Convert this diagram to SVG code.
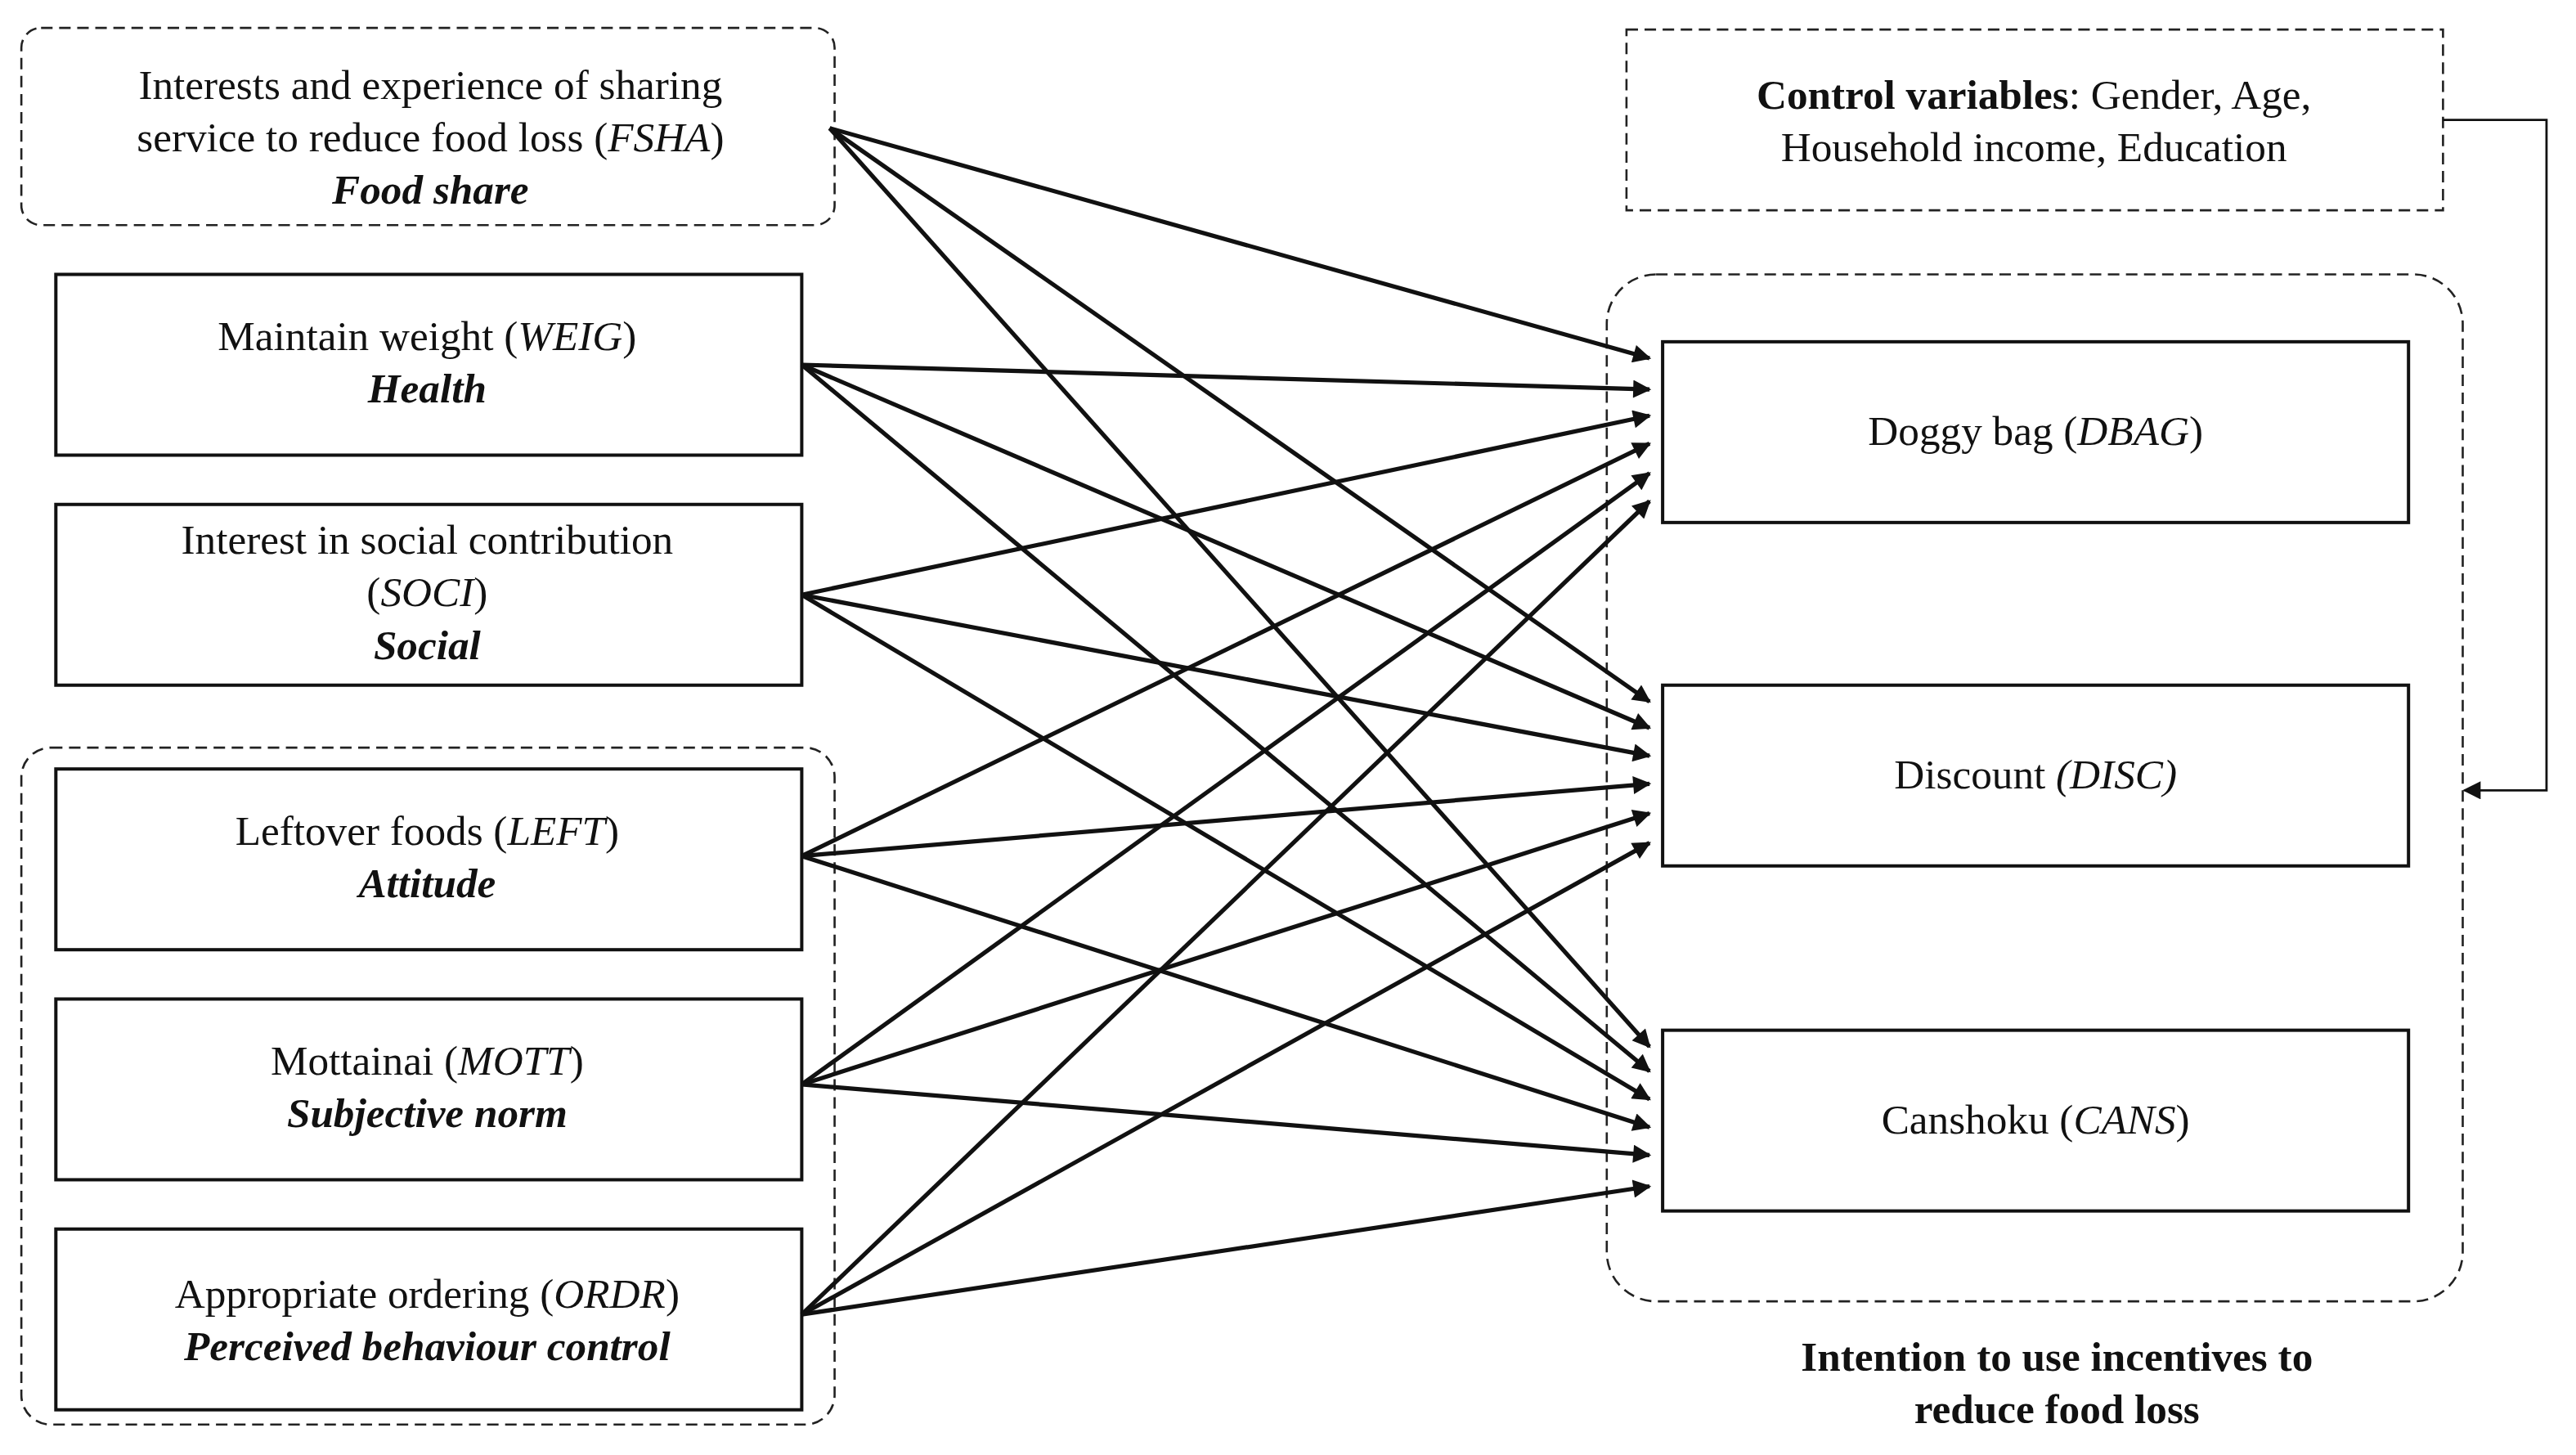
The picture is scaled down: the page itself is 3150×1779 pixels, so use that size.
<svg xmlns="http://www.w3.org/2000/svg" width="3150" height="1779" viewBox="0 0 3150 1779">
<style>
text{font-family:"Liberation Serif","DejaVu Serif",serif;font-size:25.5px;fill:#111;text-anchor:middle}
.bi{font-weight:bold;font-style:italic}
.b{font-weight:bold}
.i{font-style:italic}
.box{fill:#fff;stroke:#111;stroke-width:2}
.dash{fill:none;stroke:#222;stroke-width:1.3;stroke-dasharray:7,4}
.c line,.c polyline{stroke:#111;stroke-width:2.6;fill:none;marker-end:url(#ah)}
</style>
<defs><marker id="ah" viewBox="0 0 10 10" refX="9" refY="5" markerWidth="15" markerHeight="11" markerUnits="userSpaceOnUse" orient="auto"><path d="M0,0 L10,5 L0,10 z" fill="#111"/></marker></defs>
<rect width="3150" height="1779" fill="#fff"/>
<g transform="scale(2.009)">
<g id="groupL"><rect class="dash" x="13" y="455" width="495" height="412" rx="18"/></g>
<g id="groupR"><rect class="dash" x="978" y="167" width="521" height="625" rx="30"/></g>
<g id="FSHA"><rect class="dash" x="13" y="17" width="495" height="120" rx="12"/>
<text x="262" y="60">Interests and experience of sharing</text>
<text x="262" y="92">service to reduce food loss (<tspan class="i">FSHA</tspan>)</text>
<text x="262" y="124" class="bi">Food share</text></g>
<g id="WEIG"><rect class="box" x="34" y="167" width="454" height="110"/>
<text x="260" y="213">Maintain weight (<tspan class="i">WEIG</tspan>)</text>
<text x="260" y="245" class="bi">Health</text></g>
<g id="SOCI"><rect class="box" x="34" y="307" width="454" height="110"/>
<text x="260" y="337">Interest in social contribution</text>
<text x="260" y="369">(<tspan class="i">SOCI</tspan>)</text>
<text x="260" y="401" class="bi">Social</text></g>
<g id="LEFT"><rect class="box" x="34" y="468" width="454" height="110"/>
<text x="260" y="514">Leftover foods (<tspan class="i">LEFT</tspan>)</text>
<text x="260" y="546" class="bi">Attitude</text></g>
<g id="MOTT"><rect class="box" x="34" y="608" width="454" height="110"/>
<text x="260" y="654">Mottainai (<tspan class="i">MOTT</tspan>)</text>
<text x="260" y="686" class="bi">Subjective norm</text></g>
<g id="ORDR"><rect class="box" x="34" y="748" width="454" height="110"/>
<text x="260" y="796">Appropriate ordering (<tspan class="i">ORDR</tspan>)</text>
<text x="260" y="828" class="bi">Perceived behaviour control</text></g>
<g id="CTRL"><rect class="dash" x="990" y="18" width="497" height="110"/>
<text x="1238" y="66"><tspan class="b">Control variables</tspan>: Gender, Age,</text>
<text x="1238" y="98">Household income, Education</text></g>
<g id="DBAG"><rect class="box" x="1012" y="208" width="454" height="110"/>
<text x="1239" y="271">Doggy bag (<tspan class="i">DBAG</tspan>)</text></g>
<g id="DISC"><rect class="box" x="1012" y="417" width="454" height="110"/>
<text x="1239" y="480">Discount <tspan class="i">(DISC)</tspan></text></g>
<g id="CANS"><rect class="box" x="1012" y="627" width="454" height="110"/>
<text x="1239" y="690">Canshoku (<tspan class="i">CANS</tspan>)</text></g>
<g id="caption"><text x="1252" y="834" class="b">Intention to use incentives to</text>
<text x="1252" y="866" class="b">reduce food loss</text></g>
<g id="connectors" class="c">
<line x1="505" y1="78" x2="1004" y2="218"/>
<line x1="505" y1="78" x2="1004" y2="427"/>
<line x1="505" y1="78" x2="1004" y2="637"/>
<line x1="488" y1="222" x2="1004" y2="237"/>
<line x1="488" y1="222" x2="1004" y2="443"/>
<line x1="488" y1="222" x2="1004" y2="652"/>
<line x1="488" y1="362" x2="1004" y2="253"/>
<line x1="488" y1="362" x2="1004" y2="460"/>
<line x1="488" y1="362" x2="1004" y2="669"/>
<line x1="488" y1="521" x2="1004" y2="270"/>
<line x1="488" y1="521" x2="1004" y2="477"/>
<line x1="488" y1="521" x2="1004" y2="686"/>
<line x1="488" y1="660" x2="1004" y2="288"/>
<line x1="488" y1="660" x2="1004" y2="495"/>
<line x1="488" y1="660" x2="1004" y2="703"/>
<line x1="488" y1="800" x2="1004" y2="305"/>
<line x1="488" y1="800" x2="1004" y2="513"/>
<line x1="488" y1="800" x2="1004" y2="722"/>
<polyline points="1487,73 1550,73 1550,481 1500,481" style="stroke-width:1.4"/>
</g>
</g>
</svg>
